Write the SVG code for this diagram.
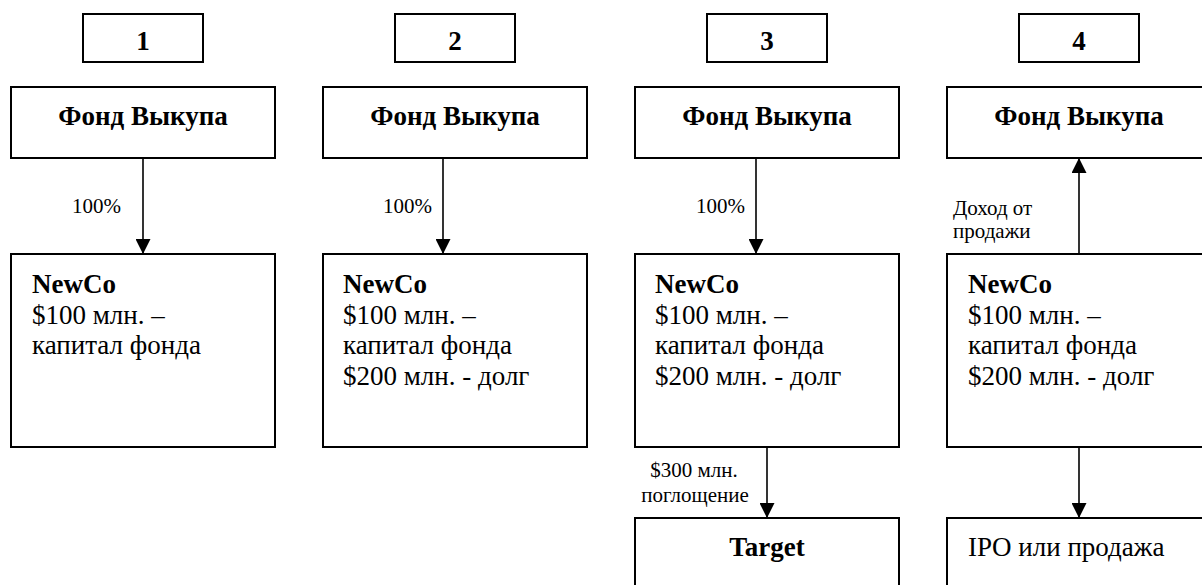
<svg xmlns="http://www.w3.org/2000/svg" width="1202" height="585" viewBox="0 0 1202 585">
<defs>
<marker id="ah" viewBox="0 0 10 10" refX="10" refY="5" markerWidth="15" markerHeight="15" markerUnits="userSpaceOnUse" orient="auto">
<path d="M0,0 L10,5 L0,10 Z" fill="#000"/>
</marker>
<style>
.box{fill:#fff;stroke:#000;stroke-width:2}
.ln{stroke:#000;stroke-width:1.6;fill:none}
text{font-family:"Liberation Serif","Times New Roman",serif;fill:#000}
.b{font-weight:bold;font-size:27px}
.t{font-size:27px}
.s{font-size:21px}
.c{text-anchor:middle}
</style>
</defs>
<rect width="1202" height="585" fill="#fff"/>

<g id="num1"><rect class="box" x="83" y="14" width="120" height="48"/><text class="b c" x="143" y="50">1</text></g>
<g id="num2"><rect class="box" x="395" y="14" width="120" height="48"/><text class="b c" x="455" y="50">2</text></g>
<g id="num3"><rect class="box" x="707" y="14" width="120" height="48"/><text class="b c" x="767" y="50">3</text></g>
<g id="num4"><rect class="box" x="1019" y="14" width="120" height="48"/><text class="b c" x="1079" y="50">4</text></g>

<g id="fund1"><rect class="box" x="11" y="87" width="264" height="71"/><text class="b c" x="143" y="125">Фонд Выкупа</text></g>
<g id="fund2"><rect class="box" x="323" y="87" width="264" height="71"/><text class="b c" x="455" y="125">Фонд Выкупа</text></g>
<g id="fund3"><rect class="box" x="635" y="87" width="264" height="71"/><text class="b c" x="767" y="125">Фонд Выкупа</text></g>
<g id="fund4"><rect class="box" x="947" y="87" width="264" height="71"/><text class="b c" x="1079" y="125">Фонд Выкупа</text></g>

<g id="newco1"><rect class="box" x="11" y="254" width="264" height="193"/>
<text class="b" x="32" y="293">NewCo</text>
<text class="t" x="32" y="324">$100 млн. –</text>
<text class="t" x="32" y="354">капитал фонда</text></g>
<g id="newco2"><rect class="box" x="323" y="254" width="264" height="193"/>
<text class="b" x="343" y="293">NewCo</text>
<text class="t" x="343" y="324">$100 млн. –</text>
<text class="t" x="343" y="354">капитал фонда</text>
<text class="t" x="343" y="385">$200 млн. - долг</text></g>
<g id="newco3"><rect class="box" x="635" y="254" width="264" height="193"/>
<text class="b" x="655" y="293">NewCo</text>
<text class="t" x="655" y="324">$100 млн. –</text>
<text class="t" x="655" y="354">капитал фонда</text>
<text class="t" x="655" y="385">$200 млн. - долг</text></g>
<g id="newco4"><rect class="box" x="947" y="254" width="264" height="193"/>
<text class="b" x="968" y="293">NewCo</text>
<text class="t" x="968" y="324">$100 млн. –</text>
<text class="t" x="968" y="354">капитал фонда</text>
<text class="t" x="968" y="385">$200 млн. - долг</text></g>

<g id="target"><rect class="box" x="635" y="518" width="264" height="80"/><text class="b c" x="767" y="556">Target</text></g>
<g id="ipo"><rect class="box" x="947" y="518" width="264" height="80"/><text class="t" x="968" y="556">IPO или продажа</text></g>

<g id="connectors">
<line class="ln" x1="143" y1="158" x2="143" y2="254" marker-end="url(#ah)"/>
<line class="ln" x1="443" y1="158" x2="443" y2="254" marker-end="url(#ah)"/>
<line class="ln" x1="756" y1="158" x2="756" y2="254" marker-end="url(#ah)"/>
<line class="ln" x1="1079" y1="254" x2="1079" y2="158" marker-end="url(#ah)"/>
<line class="ln" x1="767" y1="447" x2="767" y2="518" marker-end="url(#ah)"/>
<line class="ln" x1="1079" y1="447" x2="1079" y2="518" marker-end="url(#ah)"/>
<text class="s" x="72" y="213">100%</text>
<text class="s" x="383" y="213">100%</text>
<text class="s" x="696" y="213">100%</text>
<text class="s" x="953" y="215">Доход от</text>
<text class="s" x="953" y="238">продажи</text>
<text class="s c" x="694" y="477">$300 млн.</text>
<text class="s c" x="695" y="502">поглощение</text>
</g>
</svg>
